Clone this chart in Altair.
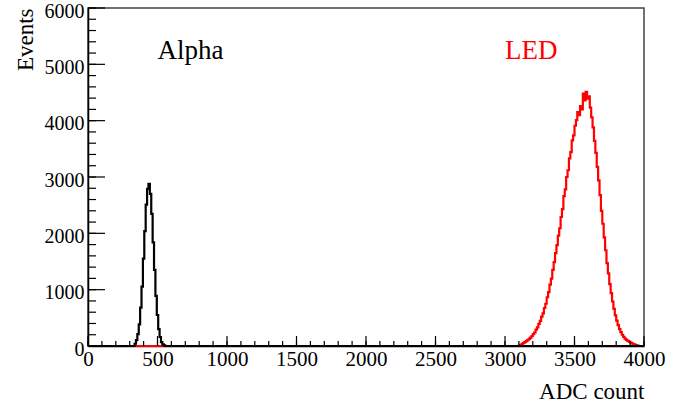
import altair as alt
import pandas as pd

# ---- data (10 ADC-count bins) ----
bin_w = 10
led_start = 3100
led_counts = [8, 20, 38, 55, 70, 85, 104, 128, 150, 176,
              212, 240, 290, 330, 392, 445, 520, 580, 675, 750,
              865, 955, 1090, 1195, 1350, 1490, 1650, 1790, 1960, 2090,
              2290, 2430, 2660, 2780, 3000, 3120, 3330, 3440, 3650, 3740,
              3910, 4010, 4150, 4100, 4260, 4200, 4480, 4360, 4510, 4390,
              4430, 4230, 4060, 3880, 3640, 3430, 3180, 2940, 2680, 2400,
              2170, 1930, 1700, 1470, 1290, 1100, 940, 790, 660, 545,
              450, 370, 300, 245, 200, 162, 132, 110, 92, 76,
              62, 48, 35, 24, 14, 6]
alpha_start = 335
alpha_counts = [40, 105, 210, 385, 680, 1055, 1550, 2040, 2510, 2790,
                2880, 2700, 2345, 1840, 1350, 890, 550, 300, 160, 70,
                30, 12]

x_major = [0, 500, 1000, 1500, 2000, 2500, 3000, 3500, 4000]
x_minor = list(range(0, 4001, 100))
y_major = [0, 1000, 2000, 3000, 4000, 5000, 6000]
y_minor = list(range(0, 6001, 200))

labels = ["Alpha", "LED"]
label_x = [500, 3000]
label_y = [5100, 5100]
label_colors = ["black", "red"]

X_MAX, Y_MAX = 4000, 6000
W, H = 556, 338
FONT = "Liberation Serif"


def hist_df(start, counts):
    xs = [0] + [start + i * bin_w for i in range(len(counts))] + [start + len(counts) * bin_w, X_MAX]
    ys = [0] + list(counts) + [0, 0]
    return pd.DataFrame({"adc": xs, "events": ys})


led_df = hist_df(led_start, led_counts)
alpha_df = hist_df(alpha_start, alpha_counts)

xs = alt.Scale(domain=[0, X_MAX], nice=False, zero=False)
ys = alt.Scale(domain=[0, Y_MAX], nice=False)

xaxis = alt.Axis(values=x_major, ticks=False, grid=False, domainColor="black", domainWidth=1.5,
                 labelFont=FONT, labelFontSize=21, labelColor="black", labelPadding=2,
                 labelFlush=False, labelOverlap=False, format="d",
                 titleFont=FONT, titleFontSize=23, titleFontWeight="normal", titleColor="black",
                 titleAlign="right", titleX=W, titleY=52, titleBaseline="alphabetic")
yaxis = alt.Axis(values=y_major, ticks=False, grid=False, domainColor="black", domainWidth=1.5,
                 labelFont=FONT, labelFontSize=20, labelColor="black", labelPadding=4,
                 labelOffset=3, labelFlush=False, labelOverlap=False, format="d",
                 titleFont=FONT, titleFontSize=23, titleFontWeight="normal", titleColor="black",
                 titleAngle=270, titleAlign="right", titleBaseline="top", titleX=-74, titleY=0)


def X(field):
    return alt.X(field, type="quantitative", scale=xs, axis=xaxis, title="ADC count")


def Y(field):
    return alt.Y(field, type="quantitative", scale=ys, axis=yaxis, title="Events")


led = alt.Chart(led_df).mark_line(interpolate="step-after", color="red", strokeWidth=2.2).encode(
    x=X("adc"), y=Y("events"))
alpha = alt.Chart(alpha_df).mark_line(interpolate="step-after", color="black", strokeWidth=2.2).encode(
    x=X("adc"), y=Y("events"))

xmaj = alt.Chart(pd.DataFrame({"t": x_major})).mark_rule(color="black", strokeWidth=1.2).encode(
    x=X("t"), y=alt.value(H), y2=alt.value(H - 10))
xmin = alt.Chart(pd.DataFrame({"t": x_minor})).mark_rule(color="black", strokeWidth=1.2).encode(
    x=X("t"), y=alt.value(H), y2=alt.value(H - 5))
ymaj = alt.Chart(pd.DataFrame({"t": y_major})).mark_rule(color="black", strokeWidth=1.2).encode(
    y=Y("t"), x=alt.value(0), x2=alt.value(17))
ymin = alt.Chart(pd.DataFrame({"t": y_minor})).mark_rule(color="black", strokeWidth=1.2).encode(
    y=Y("t"), x=alt.value(0), x2=alt.value(8))

txt_df = pd.DataFrame({"label": labels, "x": label_x, "y": label_y, "c": label_colors})
txt = alt.Chart(txt_df).mark_text(font=FONT, fontSize=27, align="left", baseline="alphabetic").encode(
    x=X("x"), y=Y("y"), text="label:N", color=alt.Color("c:N", scale=None))

chart = alt.layer(led, alpha, xmin, xmaj, ymin, ymaj, txt).properties(
    width=W, height=H,
    autosize=alt.AutoSizeParams(type="none"),
    padding={"left": 88, "top": 8, "right": 48, "bottom": 61},
).configure(background="white", font=FONT).configure_view(
    stroke="#444", strokeWidth=1.5
).configure_axis(labelFont=FONT, titleFont=FONT)

chart.save("out.html", embed_options={"renderer": "svg", "actions": False})
